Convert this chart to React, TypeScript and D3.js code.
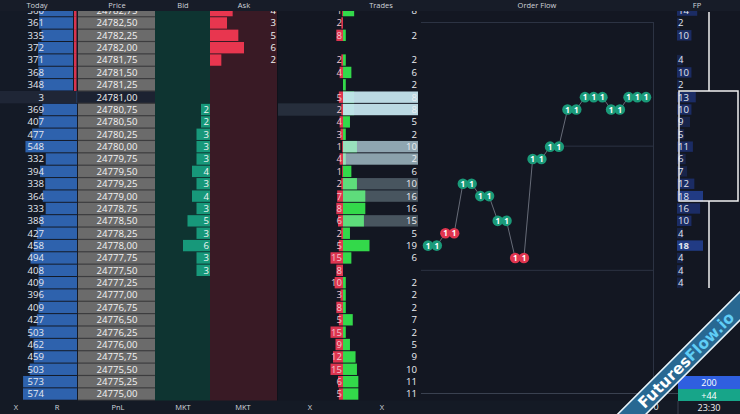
import * as d3 from "d3";

// ─── Ladder data (top → bottom) ──────────────────────────────────────────────
const PRICES = [
  "24782,75", "24782,50", "24782,25", "24782,00", "24781,75", "24781,50", "24781,25", "24781,00",
  "24780,75", "24780,50", "24780,25", "24780,00", "24779,75", "24779,50", "24779,25", "24779,00",
  "24778,75", "24778,50", "24778,25", "24778,00", "24777,75", "24777,50", "24777,25", "24777,00",
  "24776,75", "24776,50", "24776,25", "24776,00", "24775,75", "24775,50", "24775,25", "24775,00",
];
const TODAY = [
  360, 361, 335, 372, 371, 368, 348, 3, 369, 407, 477, 548, 332, 394, 338, 364,
  333, 388, 427, 458, 494, 408, 409, 396, 409, 427, 503, 462, 459, 503, 573, 574,
];
const BID: (number | null)[] = [
  null, null, null, null, null, null, null, null, 2, 2, 3, 3, 3, 4, 3, 4,
  3, 5, 3, 6, 3, 3, null, null, null, null, null, null, null, null, null, null,
];
const ASK: (number | null)[] = [
  4, 3, 5, 6, 2, null, null, null, null, null, null, null, null, null, null, null,
  null, null, null, null, null, null, null, null, null, null, null, null, null, null, null, null,
];
const SELLS: (number | null)[] = [
  1, 2, 8, null, 2, 4, null, 5, 2, 4, 3, 1, 4, 1, 2, 7,
  8, 6, 2, 5, 15, 8, 10, 3, 8, 5, 15, 9, 12, 15, 6, 5,
];
const BUYS: (number | null)[] = [
  8, null, 2, null, 2, 6, 2, 8, 8, 5, 2, 10, 2, 6, 10, 16,
  16, 15, 5, 19, 6, null, 2, 2, 2, 7, 2, 5, 9, 10, 11, 11,
];
// highlight strength of the volume-profile band in the Trades column
const TRADE_SHADE = [
  0, 0, 0, 0, 0, 0, 0, 0.95, 0.95, 0, 0, 0.7, 0.68, 0, 0.3, 0.3,
  0, 0.3, 0, 0, 0, 0, 0, 0, 0, 0, 0, 0, 0, 0, 0, 0,
];
const FP: (number | null)[] = [
  14, 2, 10, null, 4, 10, 2, 13, 10, 9, 5, 11, 6, 7, 12, 18,
  16, 10, 4, 18, 4, 4, 4, null, null, null, null, null, null, null, null, null,
];

// ─── Order flow prints ───────────────────────────────────────────────────────
const OF_PRICE = [
  "24778,00", "24778,00", "24778,25", "24778,25", "24779,25", "24779,25", "24779,00", "24779,00",
  "24778,50", "24778,50", "24777,75", "24777,75", "24779,75", "24779,75", "24780,00", "24780,00",
  "24780,75", "24780,75", "24781,00", "24781,00", "24781,00", "24780,75", "24780,75", "24781,00",
  "24781,00", "24781,00",
];
const OF_SIDE = [
  "buy", "buy", "sell", "sell", "buy", "buy", "buy", "buy",
  "buy", "buy", "sell", "sell", "buy", "buy", "buy", "buy",
  "buy", "buy", "buy", "buy", "buy", "buy", "buy", "buy",
  "buy", "buy",
];
const OF_SIZE = [1, 1, 1, 1, 1, 1, 1, 1, 1, 1, 1, 1, 1, 1, 1, 1, 1, 1, 1, 1, 1, 1, 1, 1, 1, 1];

const HEADERS = [
  { label: "Today", x: 37 },
  { label: "Price", x: 117 },
  { label: "Bid", x: 183 },
  { label: "Ask", x: 244 },
  { label: "Trades", x: 381 },
  { label: "Order Flow", x: 537 },
  { label: "FP", x: 697 },
];
const FOOTERS = [
  { label: "X", x: 16 },
  { label: "R", x: 57 },
  { label: "PnL", x: 118 },
  { label: "MKT", x: 183 },
  { label: "MKT", x: 243 },
  { label: "X", x: 310 },
  { label: "X", x: 382 },
];
const LAST_PRICE = "24781,00";

const W = 740;
const H = 414;
const FONT = "'Open Sans', 'Noto Sans', sans-serif";
const FS = 9.6;

export default function App() {
  const y = d3.scaleBand<string>().domain(PRICES).range([4.4, 400.2]);
  const bw = y.bandwidth();
  const yc = (p: string) => (y(p) ?? 0) + bw / 2;
  const ty = (p: string) => yc(p) + 3.4;

  const todayW = d3.scaleLinear().domain([0, 574]).range([0, 54]);
  const bidW = d3.scaleLinear().domain([0, 6]).range([0, 27]);
  const askW = d3.scaleLinear().domain([0, 6]).range([0, 34]);
  const sellW = d3.scaleLinear().domain([0, 15]).range([0, 12.5]);
  const buyW = d3.scaleLinear().domain([0, 19]).range([0, 26.5]);
  const fpW = d3.scaleLinear().domain([0, 18]).range([0, 26]);
  const ofX = d3.scaleLinear().domain([0, OF_PRICE.length - 1]).range([428, 646]);

  const tradeMid = 343;
  const ofLine = d3
    .line<string>()
    .x((_, i) => ofX(i))
    .y((p) => yc(p));

  return (
    <svg
      width={W}
      height={H}
      viewBox={`0 0 ${W} ${H}`}
      style={{ position: "fixed", left: 0, top: 0, display: "block" }}
      fontFamily={FONT}
    >
      <defs>
        <clipPath id="body-clip">
          <rect x={0} y={11} width={W} height={389.5} />
        </clipPath>
      </defs>
      <rect width={W} height={H} fill="#131722" />

      {/* column backgrounds */}
      <rect x={0} y={0} width={78} height={H} fill="#141a26" />
      <rect x={78} y={0} width={77} height={H} fill="#3c3c3e" />
      <rect x={155} y={0} width={55} height={H} fill="#0e3431" />
      <rect x={210} y={0} width={67} height={H} fill="#391a25" />
      <line x1={277.5} x2={277.5} y1={0} y2={H} stroke="#0f121a" strokeWidth={1} />

      {/* ── ladder rows ───────────────────────────────────────────────── */}
      <g clipPath="url(#body-clip)">
        {PRICES.map((p, i) => {
          const top = y(p) ?? 0;
          const last = p === LAST_PRICE;
          const tEnd = i < 7 ? 73 : 77;
          return (
            <g key={p} fontSize={FS}>
              {last && <rect x={0} y={top} width={78} height={bw} fill="#1f2636" />}
              <rect
                x={tEnd - todayW(TODAY[i])}
                y={top + 0.5}
                width={todayW(TODAY[i])}
                height={bw - 1}
                fill="#2e62ad"
              />
              {i < 7 && <rect x={74} y={top} width={2.5} height={bw} fill="#d93450" />}
              <text x={44} y={ty(p)} textAnchor="end" fill="#e4e8f0">
                {TODAY[i]}
              </text>

              <rect
                x={78}
                y={top + 0.6}
                width={77}
                height={bw - 1.2}
                fill={last ? "#1c2231" : "#6b6b6b"}
              />
              <text x={117} y={ty(p)} textAnchor="middle" fill="#f2f2f2">
                {p}
              </text>

              {BID[i] != null && (
                <g>
                  <rect
                    x={210 - bidW(BID[i]!)}
                    y={top + 0.5}
                    width={bidW(BID[i]!)}
                    height={bw - 1}
                    fill="#17987a"
                  />
                  <text x={209} y={ty(p)} textAnchor="end" fill="#eef6f3">
                    {BID[i]}
                  </text>
                </g>
              )}
              {ASK[i] != null && (
                <g>
                  <rect
                    x={210}
                    y={top + 0.5}
                    width={askW(ASK[i]!)}
                    height={bw - 1}
                    fill="#e8364f"
                  />
                  <text x={276} y={ty(p)} textAnchor="end" fill="#f2f2f2">
                    {ASK[i]}
                  </text>
                </g>
              )}

              {/* trades */}
              {i === 8 && <rect x={278} y={top} width={65} height={bw} fill="#262e3c" />}
              {SELLS[i] != null && (
                <g>
                  <rect
                    x={tradeMid - sellW(SELLS[i]!)}
                    y={top + 0.5}
                    width={sellW(SELLS[i]!)}
                    height={bw - 1}
                    fill="#dd3550"
                  />
                  <text x={342} y={ty(p)} textAnchor="end" fill="#f3c6cd">
                    {SELLS[i]}
                  </text>
                </g>
              )}
              {BUYS[i] != null && (
                <rect
                  x={tradeMid}
                  y={top + 0.5}
                  width={buyW(BUYS[i]!)}
                  height={bw - 1}
                  fill="#33d94a"
                />
              )}
              {TRADE_SHADE[i] > 0 && (
                <rect
                  x={tradeMid}
                  y={top + 0.5}
                  width={418 - tradeMid}
                  height={bw - 1}
                  fill="#c4e4ee"
                  opacity={TRADE_SHADE[i]}
                />
              )}
              {BUYS[i] != null && (
                <text x={417} y={ty(p)} textAnchor="end" fill="#eceef2">
                  {BUYS[i]}
                </text>
              )}

              {/* footprint */}
              {FP[i] != null && (
                <g>
                  <rect
                    x={677}
                    y={top + 1}
                    width={fpW(FP[i]!)}
                    height={bw - 2}
                    fill={FP[i]! >= 18 ? "#243f8f" : "#1d2f6c"}
                    opacity={FP[i]! >= 10 ? 0.9 : 0.55}
                  />
                  <text
                    x={678}
                    y={ty(p)}
                    fill="#e2e6ee"
                    fontWeight={p === "24778,00" ? 700 : 400}
                  >
                    {FP[i]}
                  </text>
                </g>
              )}
            </g>
          );
        })}
      </g>

      {/* ── order flow panel ─────────────────────────────────────────── */}
      <g stroke="#2c3343" strokeWidth={1}>
        <line x1={421} x2={653} y1={22.5} y2={22.5} />
        <line x1={557} x2={653} y1={yc("24780,00") - 0.5} y2={yc("24780,00") - 0.5} />
        <line x1={421} x2={653} y1={yc("24777,50")} y2={yc("24777,50")} />
        <line x1={653.5} x2={653.5} y1={22} y2={393} />
        <line x1={421} x2={678} y1={393.5} y2={393.5} stroke="#3a4150" />
      </g>
      <path d={ofLine(OF_PRICE) ?? ""} fill="none" stroke="#7c828e" strokeWidth={0.8} />
      {OF_PRICE.map((p, i) => (
        <g key={i}>
          <circle
            cx={ofX(i)}
            cy={yc(p)}
            r={5.3}
            fill={OF_SIDE[i] === "buy" ? "#1a9a79" : "#e0354f"}
          />
          <text
            x={ofX(i)}
            y={yc(p) + 3}
            textAnchor="middle"
            fontSize={8}
            fontWeight={700}
            fill="#ffffff"
          >
            {OF_SIZE[i]}
          </text>
        </g>
      ))}

      {/* FP range markers */}
      <g stroke="#f2f2f2" strokeWidth={1.5} fill="none">
        <line x1={709} x2={709} y1={12} y2={91} />
        <rect x={679} y={91} width={59} height={110} />
        <line x1={709} x2={709} y1={201} y2={288} />
      </g>

      {/* header */}
      <rect x={0} y={0} width={W} height={11} fill="#171c28" />
      {HEADERS.map((h) => (
        <text
          key={h.label}
          x={h.x}
          y={8}
          textAnchor="middle"
          fontSize={7.5}
          fill="#cfd3db"
        >
          {h.label}
        </text>
      ))}

      {/* footer */}
      <rect x={0} y={400.5} width={W} height={H - 400.5} fill="#141a25" />
      {FOOTERS.map((f, i) => (
        <text key={i} x={f.x} y={410} textAnchor="middle" fontSize={7.5} fill="#d2d6de">
          {f.label}
        </text>
      ))}
      <rect x={678} y={376} width={62} height={13} fill="#2f5fe0" />
      <text x={709} y={386} textAnchor="middle" fontSize={9} fill="#ffffff">
        200
      </text>
      <rect x={678} y={389} width={62} height={12} fill="#17a589" />
      <text x={709} y={398.5} textAnchor="middle" fontSize={9} fill="#ffffff">
        +44
      </text>
      <line x1={678} x2={678} y1={401} y2={H} stroke="#3a4150" />
      <text x={656} y={410} textAnchor="middle" fontSize={9} fill="#e6e6e6">
        0
      </text>
      <text x={709} y={410.5} textAnchor="middle" fontSize={9} fill="#f0f0f0">
        23:30
      </text>

      {/* watermark ribbon */}
      <g transform="translate(686,360) rotate(-45)">
        <rect x={-220} y={-10} width={440} height={20} fill="#286892" stroke="#e8f4fa" strokeWidth={1.6} />
        <text
          x={0}
          y={5.6}
          textAnchor="middle"
          fontSize={15.5}
          fontWeight={700}
          fontFamily="'DejaVu Sans', 'Open Sans', sans-serif"
        >
          <tspan fill="#ffffff">Futures</tspan>
          <tspan fill="#5fcdf6">Flow.io</tspan>
        </text>
      </g>
    </svg>
  );
}
